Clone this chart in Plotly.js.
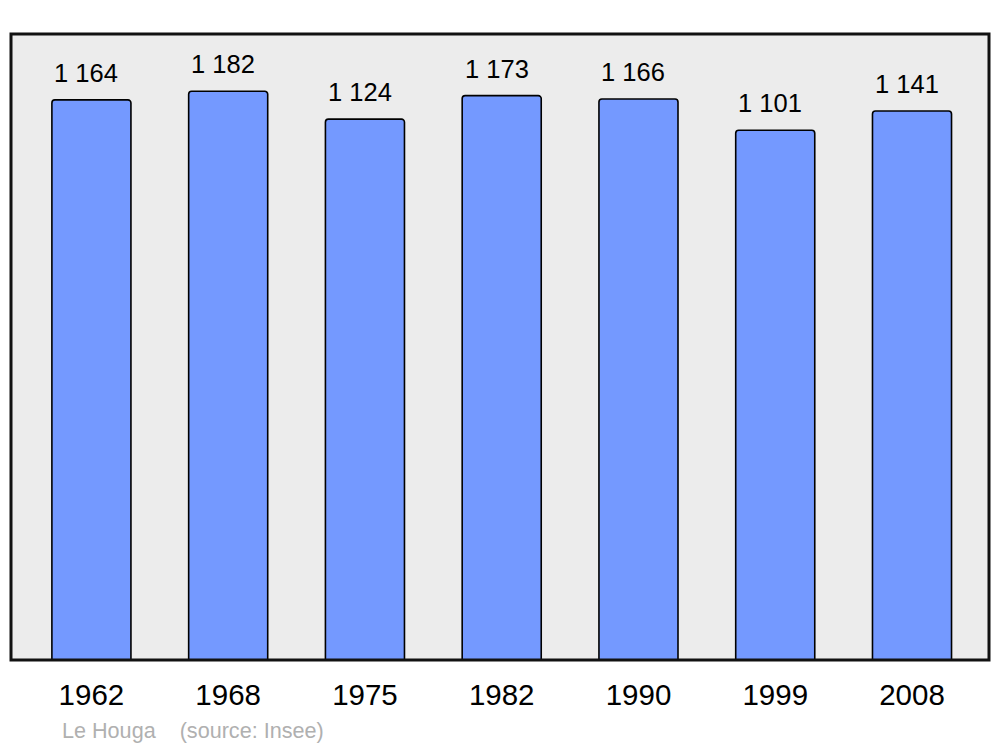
<!DOCTYPE html>
<html>
<head>
<meta charset="utf-8">
<script src="https://cdn.plot.ly/plotly-3.0.1.min.js"></script>
<style>html,body{margin:0;padding:0;background:#fff;}#chart{width:1000px;height:747px;}</style>
</head>
<body>
<div id="chart"></div>
<script>
const years = ["1962", "1968", "1975", "1982", "1990", "1999", "2008"];
const population = [1164, 1182, 1124, 1173, 1166, 1101, 1141];
const placeName = "Le Houga";
const sourceText = "(source: Insee)";

function fmt(v) {
  return String(v).replace(/\B(?=(\d{3})+(?!\d))/g, "\u00a0");
}

const idx = years.map((_, i) => i);

const trace = {
  type: "bar",
  x: idx,
  y: population,
  width: 0.578,
  marker: { color: "#7499ff", line: { color: "#000", width: 1.6 }, cornerradius: 3 },
  hoverinfo: "skip"
};

const annotations = population.map((v, i) => ({
  x: i, y: v, xref: "x", yref: "y",
  text: fmt(v), showarrow: false,
  yanchor: "bottom", yshift: 11, xshift: -5,
  font: { family: "Liberation Sans, Arial, sans-serif", size: 25.5, color: "#000" }
}));

annotations.push({
  xref: "paper", yref: "paper", x: (62 - 11) / 978, y: (660 - 730) / 626,
  xanchor: "left", yanchor: "middle", showarrow: false, xshift: -2,
  text: placeName + "\u00a0\u00a0\u00a0\u00a0" + sourceText,
  font: { family: "Liberation Sans, Arial, sans-serif", size: 21.6, color: "#b0b0b0" }
});

const layout = {
  width: 1000, height: 747,
  margin: { l: 11, r: 11, t: 34, b: 87 },
  paper_bgcolor: "#ffffff",
  plot_bgcolor: "#ececec",
  showlegend: false,
  xaxis: {
    range: [-0.588, 6.563],
    tickvals: idx, ticktext: years,
    showgrid: false, zeroline: false, showline: false, ticks: "",
    tickfont: { family: "Liberation Sans, Arial, sans-serif", size: 29.5, color: "#000" },
    ticklabelstandoff: 14,
    fixedrange: true
  },
  yaxis: {
    range: [0, 1301],
    showgrid: false, zeroline: false, showline: false, showticklabels: false, ticks: "",
    fixedrange: true
  },
  shapes: [{
    type: "rect", xref: "paper", yref: "paper", x0: 0, x1: 1, y0: 0, y1: 1,
    line: { color: "#111", width: 3 }, fillcolor: "rgba(0,0,0,0)", layer: "above"
  }],
  annotations: annotations
};

Plotly.newPlot("chart", [trace], layout, { displayModeBar: false, staticPlot: true });
</script>
</body>
</html>
